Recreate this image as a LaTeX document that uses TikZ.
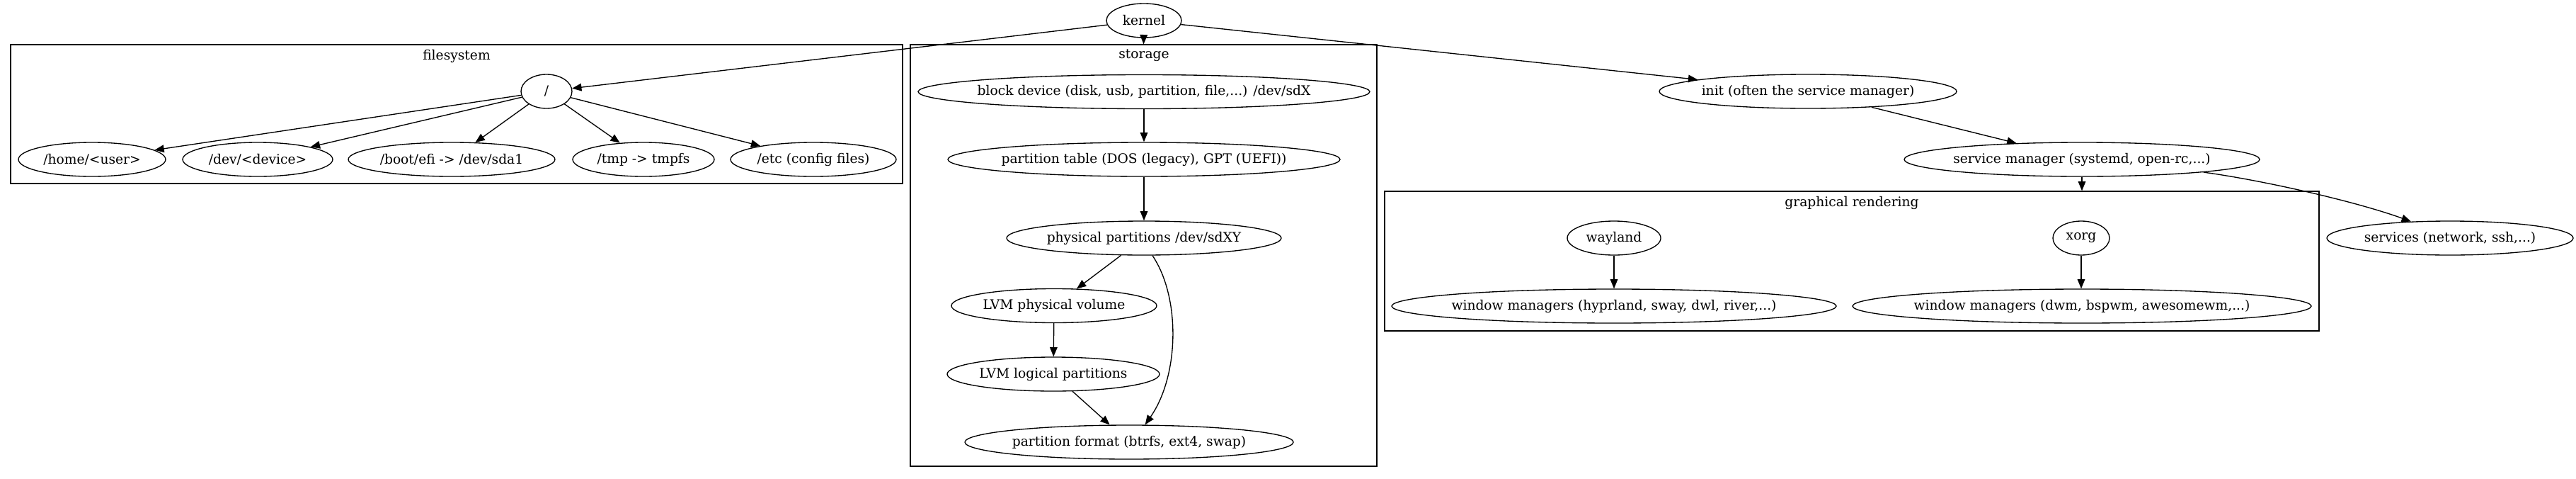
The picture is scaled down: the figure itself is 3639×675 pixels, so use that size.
\documentclass[tikz,border=0pt]{standalone}
\usepackage{fontspec}
\setmainfont{DejaVu Serif}
\usetikzlibrary{shapes.geometric}
\usetikzlibrary{arrows.meta}
\tikzstyle{gvnode} = [ellipse, draw, line width=1pt, inner xsep=-400pt, inner ysep=-60pt, minimum height=36pt, font=\fontsize{14pt}{17pt}\selectfont]
\tikzstyle{title} = [inner sep=0pt, font=\fontsize{14pt}{17pt}\selectfont]
\tikzstyle{link} = [line width=1pt, -{Triangle[length=10pt, width=8pt]}]
\tikzset{halfwd/.style={minimum width=#1*1.5pt}}
\tikzset{cluster/.style 2 args={draw, rectangle, line width=1pt, inner sep=0pt, minimum width=#1*0.75pt, minimum height=#2*0.75pt}}

\begin{document}
\begin{tikzpicture}[x=0.75pt, y=-0.75pt]

\useasboundingbox (0,0) rectangle (3639,675);

% clusters
\node[cluster={1260}{196}] (filesystem) at (645,161) {};
\node[cluster={659}{595}] (storage) at (1615.5,360.5) {};
\node[cluster={1320}{197}] (graphical) at (2616,368.5) {};
\node[title] (fslbl) at (645,79) {filesystem};
\node[title] (storagelbl) at (1616,78) {storage};
\node[title] (graphicallbl) at (2616,286) {graphical rendering};

\node[gvnode, halfwd=53] (kernel) at (1616,29) {kernel};

% filesystem
\node[gvnode, halfwd=36] (root) at (772,129) {/};
\node[gvnode, halfwd=104] (home) at (130,225) {/home/<user>};
\node[gvnode, halfwd=106] (dev) at (364,225) {/dev/<device>};
\node[gvnode, halfwd=146] (boot) at (638,225) {/boot/efi -> /dev/sda1};
\node[gvnode, halfwd=100] (tmp) at (909,225) {/tmp -> tmpfs};
\node[gvnode, halfwd=117] (etc) at (1149,225) {/etc (config files)};

% storage
\node[gvnode, halfwd=319] (block) at (1616,129.5) {block device (disk, usb, partition, file,...) /dev/sdX};
\node[gvnode, halfwd=277] (ptable) at (1616,225) {partition table (DOS (legacy), GPT (UEFI))};
\node[gvnode, halfwd=194] (phys) at (1616,336) {physical partitions /dev/sdXY};
\node[gvnode, halfwd=145] (lvmpv) at (1489,431.5) {LVM physical volume};
\node[gvnode, halfwd=150] (lvmlv) at (1488,528) {LVM logical partitions};
\node[gvnode, halfwd=232] (format) at (1595,624) {partition format (btrfs, ext4, swap)};

% init side
\node[gvnode, halfwd=210] (init) at (2554,129) {init (often the service manager)};
\node[gvnode, halfwd=251] (servmgr) at (2941,225) {service manager (systemd, open-rc,...)};
\node[gvnode, halfwd=174] (services) at (3461,336) {services (network, ssh,...)};
\node[gvnode, halfwd=66] (wayland) at (2280,336) {wayland};
\node[gvnode, halfwd=40] (xorg) at (2940,336) {xorg};
\node[gvnode, halfwd=314] (wmwl) at (2280,432) {window managers (hyprland, sway, dwl, river,...)};
\node[gvnode, halfwd=324] (wmx) at (2941,432) {window managers (dwm, bspwm, awesomewm,...)};

\draw[link] (kernel) -- (root);
\draw[link] (kernel) -- (storage.north);
\draw[link] (kernel) -- (init);

\draw[link] (root) -- (home);
\draw[link] (root) -- (dev);
\draw[link] (root) -- (boot);
\draw[link] (root) -- (tmp);
\draw[link] (root) -- (etc);

\draw[link] (block) -- (ptable);
\draw[link] (ptable) -- (phys);
\draw[link] (phys) -- (lvmpv);
\draw[link] (lvmpv) -- (lvmlv);
\draw[link] (lvmlv) -- (format);
\draw[link] ([xshift=9pt]phys.south) .. controls (1668,420) and (1666,530) .. ([xshift=17pt]format.north);

\draw[link] (init) -- (servmgr);
\draw[link] (servmgr) -- (servmgr |- graphical.north);
\draw[link] (servmgr.-6) .. controls (3200,255) and (3330,285) .. (services.157);
\draw[link] (wayland) -- (wmwl);
\draw[link] (xorg) -- (xorg |- wmx.north);

\end{tikzpicture}
\end{document}
